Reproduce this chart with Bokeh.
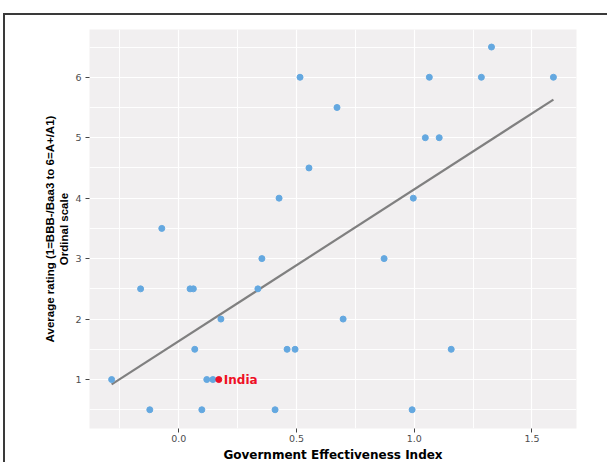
import numpy as np
from bokeh.plotting import figure
from bokeh.models import FixedTicker, ColumnDataSource, NumeralTickFormatter, Label
from bokeh.embed import file_html
from bokeh.resources import INLINE

# Government Effectiveness Index (x) and average rating (y) per country
gov_eff = [-0.285, -0.123, -0.162, -0.072, 0.048, 0.062, 0.068, 0.098, 0.119, 0.145,
           0.179, 0.336, 0.353, 0.426, 0.409, 0.460, 0.494, 0.515, 0.553, 0.672,
           0.698, 0.872, 0.996, 0.991, 1.047, 1.064, 1.106, 1.157, 1.285, 1.328, 1.591]
rating = [1, 0.5, 2.5, 3.5, 2.5, 2.5, 1.5, 0.5, 1, 1,
          2, 2.5, 3, 4, 0.5, 1.5, 1.5, 6, 4.5, 5.5,
          2, 3, 4, 0.5, 5, 6, 5, 1.5, 6, 6.5, 6]
india_x = [0.170]
india_y = [1.0]
india_label = "India"

x_ticks = [0.0, 0.5, 1.0, 1.5]
x_minor = [-0.25, 0.25, 0.75, 1.25]
y_ticks = [1, 2, 3, 4, 5, 6]
y_minor = [0.5, 1.5, 2.5, 3.5, 4.5, 5.5, 6.5]

# linear fit over all points
all_x = np.array(gov_eff + india_x)
all_y = np.array(rating + india_y)
slope, intercept = np.polyfit(all_x, all_y, 1)
fit_x = [all_x.min(), all_x.max()]
fit_y = [intercept + slope * v for v in fit_x]

p = figure(width=604, height=449, output_backend="svg", toolbar_location=None,
           x_range=(-0.379, 1.689), y_range=(0.19, 6.79),
           min_border_left=84, min_border_top=14, min_border_right=33, min_border_bottom=36)
p.styles = {"border-top": "2px solid #3a3a3a", "border-left": "2px solid #3a3a3a",
            "position": "relative", "left": "3px", "top": "13px", "overflow": "hidden"}

p.background_fill_color = "#F1EFF0"
p.border_fill_color = "white"
p.outline_line_color = None

p.xaxis.ticker = FixedTicker(ticks=x_ticks, minor_ticks=x_minor)
p.yaxis.ticker = FixedTicker(ticks=y_ticks, minor_ticks=y_minor)
p.xaxis.formatter = NumeralTickFormatter(format="0.0")

for g in (p.xgrid, p.ygrid):
    g.grid_line_color = "white"
    g.grid_line_width = 1.2
    g.minor_grid_line_color = "white"
    g.minor_grid_line_width = 0.9

for ax in (p.xaxis, p.yaxis):
    ax.axis_line_color = None
    ax.major_tick_line_color = "#444444"
    ax.major_tick_in = 0
    ax.major_tick_out = 4
    ax.minor_tick_line_color = None
    ax.major_label_text_color = "#4D4D4D"
    ax.major_label_text_font = "DejaVu Sans"
    ax.major_label_text_font_size = "9.5px"
    ax.axis_label_text_color = "black"
    ax.axis_label_text_font_style = "bold"

p.xaxis.major_label_standoff = 2
p.yaxis.major_label_standoff = 4
p.xaxis.axis_label = "Government Effectiveness Index"
p.xaxis.axis_label_text_font = "DejaVu Sans"
p.xaxis.axis_label_text_font_size = "12px"
p.xaxis.axis_label_standoff = 3
p.yaxis.axis_label = "Average rating (1=BBB-/Baa3 to 6=A+/A1)\nOrdinal scale"
p.yaxis.axis_label_text_font = "Liberation Sans"
p.yaxis.axis_label_text_font_size = "11.5px"
p.yaxis.axis_label_standoff = 2

p.line(fit_x, fit_y, line_color="#808080", line_width=2.2)

src = ColumnDataSource(dict(x=gov_eff, y=rating))
p.scatter("x", "y", source=src, size=6, fill_color="#64A8E0", line_color="#64A8E0")
p.scatter(india_x, india_y, size=6, fill_color="#EE1026", line_color="#EE1026")

p.add_layout(Label(x=india_x[0], y=india_y[0], text=india_label, x_offset=5,
                   text_baseline="middle", text_color="#EE1026",
                   text_font="DejaVu Sans", text_font_style="bold",
                   text_font_size="12px"))

open("out.html", "w").write(file_html(p, INLINE))
